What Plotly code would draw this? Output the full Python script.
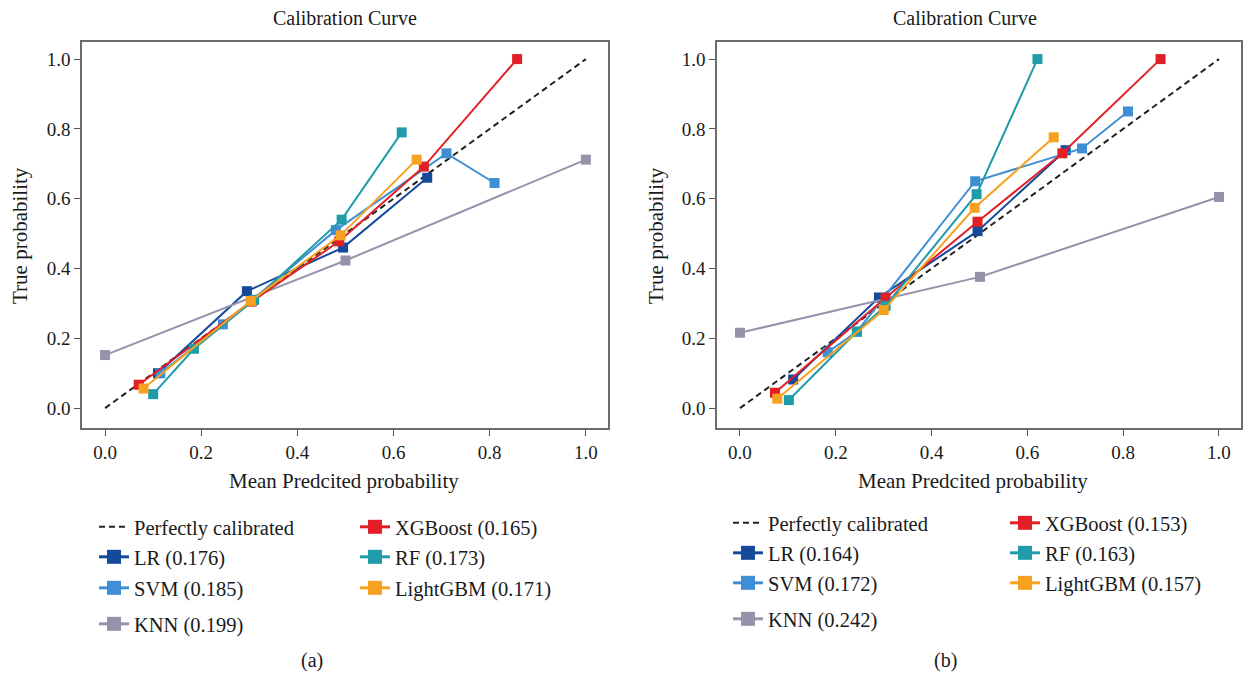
import plotly.graph_objects as go

# ---------------- data ----------------
models = ["LR", "SVM", "KNN", "XGBoost", "RF", "LightGBM"]
colors = {"LR": "#15499a", "SVM": "#3e8fd3", "KNN": "#9593ab",
          "XGBoost": "#e21f26", "RF": "#1e9ca9", "LightGBM": "#f6a11f"}

# panel (a)
a_LR_x = [0.11, 0.295, 0.495, 0.67]
a_LR_y = [0.10, 0.335, 0.46, 0.66]
a_SVM_x = [0.115, 0.245, 0.48, 0.71, 0.81]
a_SVM_y = [0.10, 0.24, 0.51, 0.73, 0.645]
a_KNN_x = [0.0, 0.50, 1.0]
a_KNN_y = [0.152, 0.423, 0.712]
a_XGB_x = [0.07, 0.305, 0.487, 0.663, 0.857]
a_XGB_y = [0.067, 0.305, 0.478, 0.692, 1.0]
a_RF_x = [0.10, 0.185, 0.31, 0.492, 0.617]
a_RF_y = [0.04, 0.17, 0.31, 0.54, 0.79]
a_LGB_x = [0.08, 0.303, 0.49, 0.648]
a_LGB_y = [0.056, 0.307, 0.495, 0.712]
a_scores = {"LR": "0.176", "SVM": "0.185", "KNN": "0.199",
            "XGBoost": "0.165", "RF": "0.173", "LightGBM": "0.171"}

# panel (b)
b_LR_x = [0.111, 0.29, 0.496, 0.68]
b_LR_y = [0.082, 0.317, 0.507, 0.739]
b_SVM_x = [0.183, 0.244, 0.491, 0.714, 0.81]
b_SVM_y = [0.16, 0.219, 0.65, 0.744, 0.85]
b_KNN_x = [0.0, 0.501, 1.0]
b_KNN_y = [0.216, 0.376, 0.605]
b_XGB_x = [0.073, 0.304, 0.496, 0.673, 0.878]
b_XGB_y = [0.044, 0.316, 0.534, 0.73, 1.0]
b_RF_x = [0.102, 0.244, 0.304, 0.494, 0.621]
b_RF_y = [0.023, 0.219, 0.293, 0.613, 1.0]
b_LGB_x = [0.078, 0.30, 0.49, 0.655]
b_LGB_y = [0.027, 0.281, 0.574, 0.776]
b_scores = {"LR": "0.164", "SVM": "0.172", "KNN": "0.242",
            "XGBoost": "0.153", "RF": "0.163", "LightGBM": "0.157"}

perfect_x = [0.0, 1.0]
perfect_y = [0.0, 1.0]
tick_vals = [0.0, 0.2, 0.4, 0.6, 0.8, 1.0]
tick_text = ["0.0", "0.2", "0.4", "0.6", "0.8", "1.0"]

panel_a = {"LR": (a_LR_x, a_LR_y), "SVM": (a_SVM_x, a_SVM_y), "KNN": (a_KNN_x, a_KNN_y),
           "XGBoost": (a_XGB_x, a_XGB_y), "RF": (a_RF_x, a_RF_y), "LightGBM": (a_LGB_x, a_LGB_y)}
panel_b = {"LR": (b_LR_x, b_LR_y), "SVM": (b_SVM_x, b_SVM_y), "KNN": (b_KNN_x, b_KNN_y),
           "XGBoost": (b_XGB_x, b_XGB_y), "RF": (b_RF_x, b_RF_y), "LightGBM": (b_LGB_x, b_LGB_y)}

# ---------------- layout helpers ----------------
W, H = 1243, 673
FONT = "Liberation Serif"
TXT = "#1a1a1a"

def px_x(p):
    return p / W

def px_y(p):
    return 1 - p / H

fig = go.Figure()

# legend slot positions (pixels) for each panel: (x_left, y_center)
leg_pos = {
    "a": {"Perfect": (94, 527), "LR": (94, 557), "SVM": (94, 588), "KNN": (94, 624),
          "XGBoost": (355, 527), "RF": (355, 557), "LightGBM": (355, 588)},
    "b": {"Perfect": (728, 523), "LR": (728, 553), "SVM": (728, 583), "KNN": (728, 619),
          "XGBoost": (1005, 523), "RF": (1005, 553), "LightGBM": (1005, 583)},
}

legend_layouts = {}
leg_counter = [0]

def new_legend(x, y):
    leg_counter[0] += 1
    name = "legend" if leg_counter[0] == 1 else f"legend{leg_counter[0]}"
    legend_layouts[name] = dict(
        x=px_x(x), y=px_y(y), xanchor="left", yanchor="middle",
        bgcolor="rgba(0,0,0,0)", borderwidth=0, visible=True,
        font=dict(family=FONT, size=20.5, color=TXT),
        itemsizing="trace", tracegroupgap=0,
    )
    return name

for tag, panel, scores, xa, ya in [("a", panel_a, a_scores, "x", "y"),
                                    ("b", panel_b, b_scores, "x2", "y2")]:
    lx, ly = leg_pos[tag]["Perfect"]
    fig.add_trace(go.Scatter(
        x=perfect_x, y=perfect_y, mode="lines", name="Perfectly calibrated",
        line=dict(color="#222222", width=2, dash="6px,4px"), showlegend=True,
        xaxis=xa, yaxis=ya, legend=new_legend(lx, ly)))
    for m in models:
        xs, ys = panel[m]
        lx, ly = leg_pos[tag][m]
        # plotted series
        fig.add_trace(go.Scatter(
            x=xs, y=ys, mode="lines+markers", name=f"{m} ({scores[m]})",
            line=dict(color=colors[m], width=2), showlegend=False,
            marker=dict(symbol="square", size=10, color=colors[m]),
            xaxis=xa, yaxis=ya))
        # legend entry (larger key symbol, like the reference)
        fig.add_trace(go.Scatter(
            x=[None], y=[None], mode="lines+markers", name=f"{m} ({scores[m]})",
            line=dict(color=colors[m], width=3), showlegend=True,
            marker=dict(symbol="square", size=14, color=colors[m]),
            xaxis=xa, yaxis=ya, legend=new_legend(lx, ly)))

axis_common = dict(
    range=[-0.048, 1.046], tickvals=tick_vals, ticktext=tick_text,
    showline=True, mirror=True, linecolor="#6b6b6b", linewidth=1.5,
    ticks="outside", ticklen=6, tickcolor="#555555", tickwidth=1,
    showgrid=False, zeroline=False,
    tickfont=dict(family=FONT, size=19, color=TXT),
)
yaxis_common = dict(axis_common)
yaxis_common["range"] = [-0.057, 1.049]

fig.update_layout(
    width=W, height=H,
    margin=dict(l=0, r=0, t=0, b=0),
    paper_bgcolor="white", plot_bgcolor="white",
    showlegend=True,
    xaxis=dict(axis_common, domain=[px_x(82), px_x(608)], anchor="y"),
    yaxis=dict(yaxis_common, domain=[px_y(428), px_y(42)], anchor="x"),
    xaxis2=dict(axis_common, domain=[px_x(717), px_x(1241)], anchor="y2"),
    yaxis2=dict(yaxis_common, domain=[px_y(428), px_y(42)], anchor="x2"),
    font=dict(family=FONT, color=TXT),
    **legend_layouts,
)

annots = [
    ("Calibration Curve", 345, 18, 0, 20),
    ("Calibration Curve", 965, 18, 0, 20),
    ("Mean Predcited probability", 344, 481, 0, 21),
    ("Mean Predcited probability", 973, 481, 0, 21),
    ("True probability", 20, 236, -90, 21),
    ("True probability", 656, 236, -90, 21),
    ("(a)", 312, 660, 0, 20),
    ("(b)", 945, 660, 0, 20),
]
for text, x, y, ang, size in annots:
    fig.add_annotation(
        text=text, x=px_x(x), y=px_y(y), xref="paper", yref="paper",
        xanchor="center", yanchor="middle", showarrow=False, textangle=ang,
        font=dict(family=FONT, size=size, color=TXT))

fig.write_html("out.html")
